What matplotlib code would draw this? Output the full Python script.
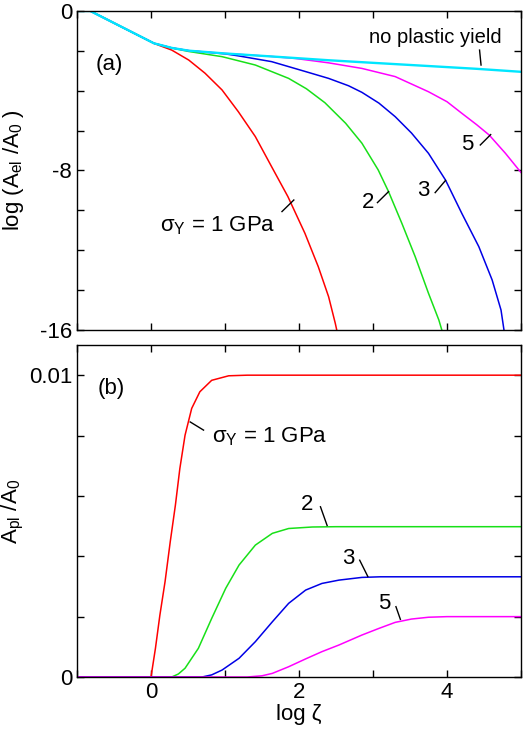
import numpy as np
from matplotlib import pyplot as plt

plt.rcParams.update({
    'font.family': ['Liberation Sans', 'DejaVu Sans'],
    'mathtext.fontset': 'custom',
    'mathtext.rm': 'Liberation Sans',
    'mathtext.it': 'Liberation Sans',
    'mathtext.default': 'regular',
    'xtick.direction': 'in',
    'ytick.direction': 'in',
    'xtick.major.size': 5,
    'ytick.major.size': 5,
    'xtick.labelsize': 16,
    'ytick.labelsize': 16,
    'axes.labelsize': 16,
    'axes.linewidth': 1.0,
    'lines.solid_joinstyle': 'round',
})

# (a) log(A_el/A0) vs log zeta
x_noyield = [-1.0, -0.82, 0.04, 0.28, 0.51, 1.0, 1.63, 2.4, 3.0, 3.75, 4.4, 5.0]
y_noyield = [0.0, 0.0, -1.62, -1.85, -1.99, -2.13, -2.28, -2.47, -2.6, -2.76, -2.9, -3.05]

x_el1 = [-1.0, -0.82, 0.04, 0.10, 0.28, 0.51, 0.73, 0.96, 1.18, 1.41, 1.63, 1.85, 2.08, 2.26, 2.40, 2.49, 2.51]
y_el1 = [0.0, 0.0, -1.62, -1.71, -1.96, -2.46, -3.12, -3.96, -5.05, -6.3, -7.81, -9.31, -11.15, -12.82, -14.33, -15.66, -16.0]

x_el2 = [-1.0, -0.82, 0.04, 0.28, 0.51, 0.96, 1.41, 1.86, 2.1, 2.35, 2.63, 2.85, 3.07, 3.21, 3.39, 3.57, 3.75, 3.89, 3.93]
y_el2 = [0.0, 0.0, -1.62, -1.86, -2.03, -2.29, -2.71, -3.38, -3.9, -4.6, -5.63, -6.63, -7.97, -9.06, -10.65, -12.32, -14.16, -15.5, -16.0]

x_el3 = [-1.0, -0.82, 0.04, 0.28, 0.51, 1.0, 1.18, 1.63, 2.09, 2.4, 2.67, 2.85, 3.08, 3.30, 3.52, 3.75, 3.98, 4.20, 4.43, 4.61, 4.73, 4.77]
y_el3 = [0.0, 0.0, -1.62, -1.85, -1.99, -2.15, -2.25, -2.54, -3.04, -3.38, -3.75, -4.08, -4.62, -5.3, -6.12, -7.14, -8.48, -10.15, -11.82, -13.49, -15.0, -16.0]

x_el5 = [-1.0, -0.82, 0.04, 0.28, 0.51, 1.0, 1.63, 1.95, 2.4, 2.85, 3.30, 3.75, 4.0, 4.20, 4.40, 4.57, 4.79, 5.0]
y_el5 = [0.0, 0.0, -1.62, -1.85, -1.99, -2.13, -2.28, -2.38, -2.6, -2.88, -3.29, -4.05, -4.55, -5.13, -5.7, -6.22, -7.14, -8.1]

# (b) A_pl/A0 vs log zeta
x_pl1 = [-1.0, 0.0, 0.06, 0.12, 0.19, 0.26, 0.33, 0.39, 0.46, 0.55, 0.66, 0.82, 1.05, 1.3, 5.0]
y_pl1 = [0.0, 0.0, 0.00095, 0.00205, 0.00316, 0.00448, 0.0057, 0.00691, 0.00801, 0.0089, 0.00945, 0.00983, 0.00998, 0.01, 0.01]

x_pl2 = [-1.0, 0.28, 0.37, 0.46, 0.64, 0.82, 1.01, 1.19, 1.41, 1.64, 1.86, 2.18, 2.5, 5.0]
y_pl2 = [0.0, 0.0, 0.0001, 0.00029, 0.00095, 0.00194, 0.00294, 0.00371, 0.00437, 0.00476, 0.00492, 0.00497, 0.00498, 0.00498]

x_pl3 = [-1.0, 0.69, 0.82, 0.96, 1.19, 1.41, 1.64, 1.86, 2.09, 2.31, 2.54, 2.85, 3.1, 5.0]
y_pl3 = [0.0, 0.0, 0.00007, 0.00023, 0.00062, 0.00117, 0.00183, 0.00244, 0.00288, 0.0031, 0.00321, 0.0033, 0.00332, 0.00332]

x_pl5 = [-1.0, 1.3, 1.5, 1.64, 1.86, 2.09, 2.31, 2.54, 2.85, 3.08, 3.30, 3.52, 3.75, 4.0, 5.0]
y_pl5 = [0.0, 0.0, 0.00004, 0.00012, 0.00034, 0.0006, 0.00084, 0.00106, 0.00139, 0.00161, 0.00181, 0.00192, 0.00198, 0.002, 0.002]

red, green, blue, magenta, cyan = '#ff0000', '#18e018', '#0000e6', '#ff00ff', '#00e6ff'

fig = plt.figure(figsize=(5.29, 7.39), dpi=100)
ax1 = fig.add_axes((77/529, 1-330/739, 444/529, 319/739))
ax2 = fig.add_axes((77/529, 1-677/739, 444/529, 332/739))

lw = 1.1
ax1.plot(x_el1, y_el1, color=red, lw=lw)
ax1.plot(x_el2, y_el2, color=green, lw=lw)
ax1.plot(x_el3, y_el3, color=blue, lw=lw)
ax1.plot(x_el5, y_el5, color=magenta, lw=lw)
ax1.plot(x_noyield, y_noyield, color=cyan, lw=1.7)

ax2.plot(x_pl1, y_pl1, color=red, lw=lw)
ax2.plot(x_pl2, y_pl2, color=green, lw=lw)
ax2.plot(x_pl3, y_pl3, color=blue, lw=lw)
ax2.plot(x_pl5, y_pl5, color=magenta, lw=lw)

for ax in (ax1, ax2):
    ax.set_xlim(-1, 5)
    ax.set_xticks(np.arange(-1, 6, 1))
    ax.tick_params(top=True, right=True, width=1.0)

ax1.set_ylim(-16, 0)
ax1.set_yticks(np.arange(-16, 1, 2))
ax1.set_yticklabels(['-16', '', '', '', '-8', '', '', '', '0'])
ax1.set_xticklabels([])
ax1.set_ylabel('log (A$_{\\rm el}$ /A$_0$ )')
ax1.yaxis.set_label_coords(-0.115, 0.5)

ax2.set_ylim(0, 0.011)
ax2.set_yticks(np.arange(0, 0.0101, 0.002))
ax2.set_yticklabels(['0', '', '', '', '', '0.01'])
ax2.set_xticklabels(['', '0', '', '2', '', '4', ''])
ax2.set_ylabel('A$_{\\rm pl}$ /A$_0$')
ax2.yaxis.set_label_coords(-0.115, 0.5)
ax2.set_xlabel('log ζ', labelpad=1)

fs = 16
k = dict(color='k', lw=1.0)
# panel (a) labels
ax1.text(-0.56, -2.66, '(a)', fontsize=16, ha='center', va='center')
ax1.text(3.84, -1.35, 'no plastic yield', fontsize=14.5, ha='center', va='center')
ax1.plot([4.44, 4.46], [-1.96, -2.71], **k)
ax1.text(0.12, -10.78, '$\\sigma_{\\rm Y}$ = 1 GPa', fontsize=fs, ha='left', va='center')
ax1.plot([1.77, 1.93], [-10.06, -9.48], **k)
ax1.text(2.94, -9.6, '2', fontsize=fs, ha='center', va='center')
ax1.plot([3.06, 3.21], [-9.61, -9.06], **k)
ax1.text(3.68, -8.98, '3', fontsize=fs, ha='center', va='center')
ax1.plot([3.84, 3.98], [-9.11, -8.5], **k)
ax1.text(4.28, -6.72, '5', fontsize=fs, ha='center', va='center')
ax1.plot([4.45, 4.59], [-6.72, -6.2], **k)

# panel (b) labels
ax2.text(-0.54, 0.00957, '(b)', fontsize=16, ha='center', va='center')
ax2.text(0.82, 0.00796, '$\\sigma_{\\rm Y}$ = 1 GPa', fontsize=fs, ha='left', va='center')
ax2.plot([0.53, 0.71], [0.00845, 0.00818], **k)
ax2.text(2.11, 0.0057, '2', fontsize=fs, ha='center', va='center')
ax2.plot([2.29, 2.38], [0.00564, 0.00502], **k)
ax2.text(2.67, 0.00391, '3', fontsize=fs, ha='center', va='center')
ax2.plot([2.82, 2.93], [0.00387, 0.00333], **k)
ax2.text(3.15, 0.00242, '5', fontsize=fs, ha='center', va='center')
ax2.plot([3.31, 3.37], [0.00233, 0.00191], **k)

plt.savefig('out.png', dpi=100)
